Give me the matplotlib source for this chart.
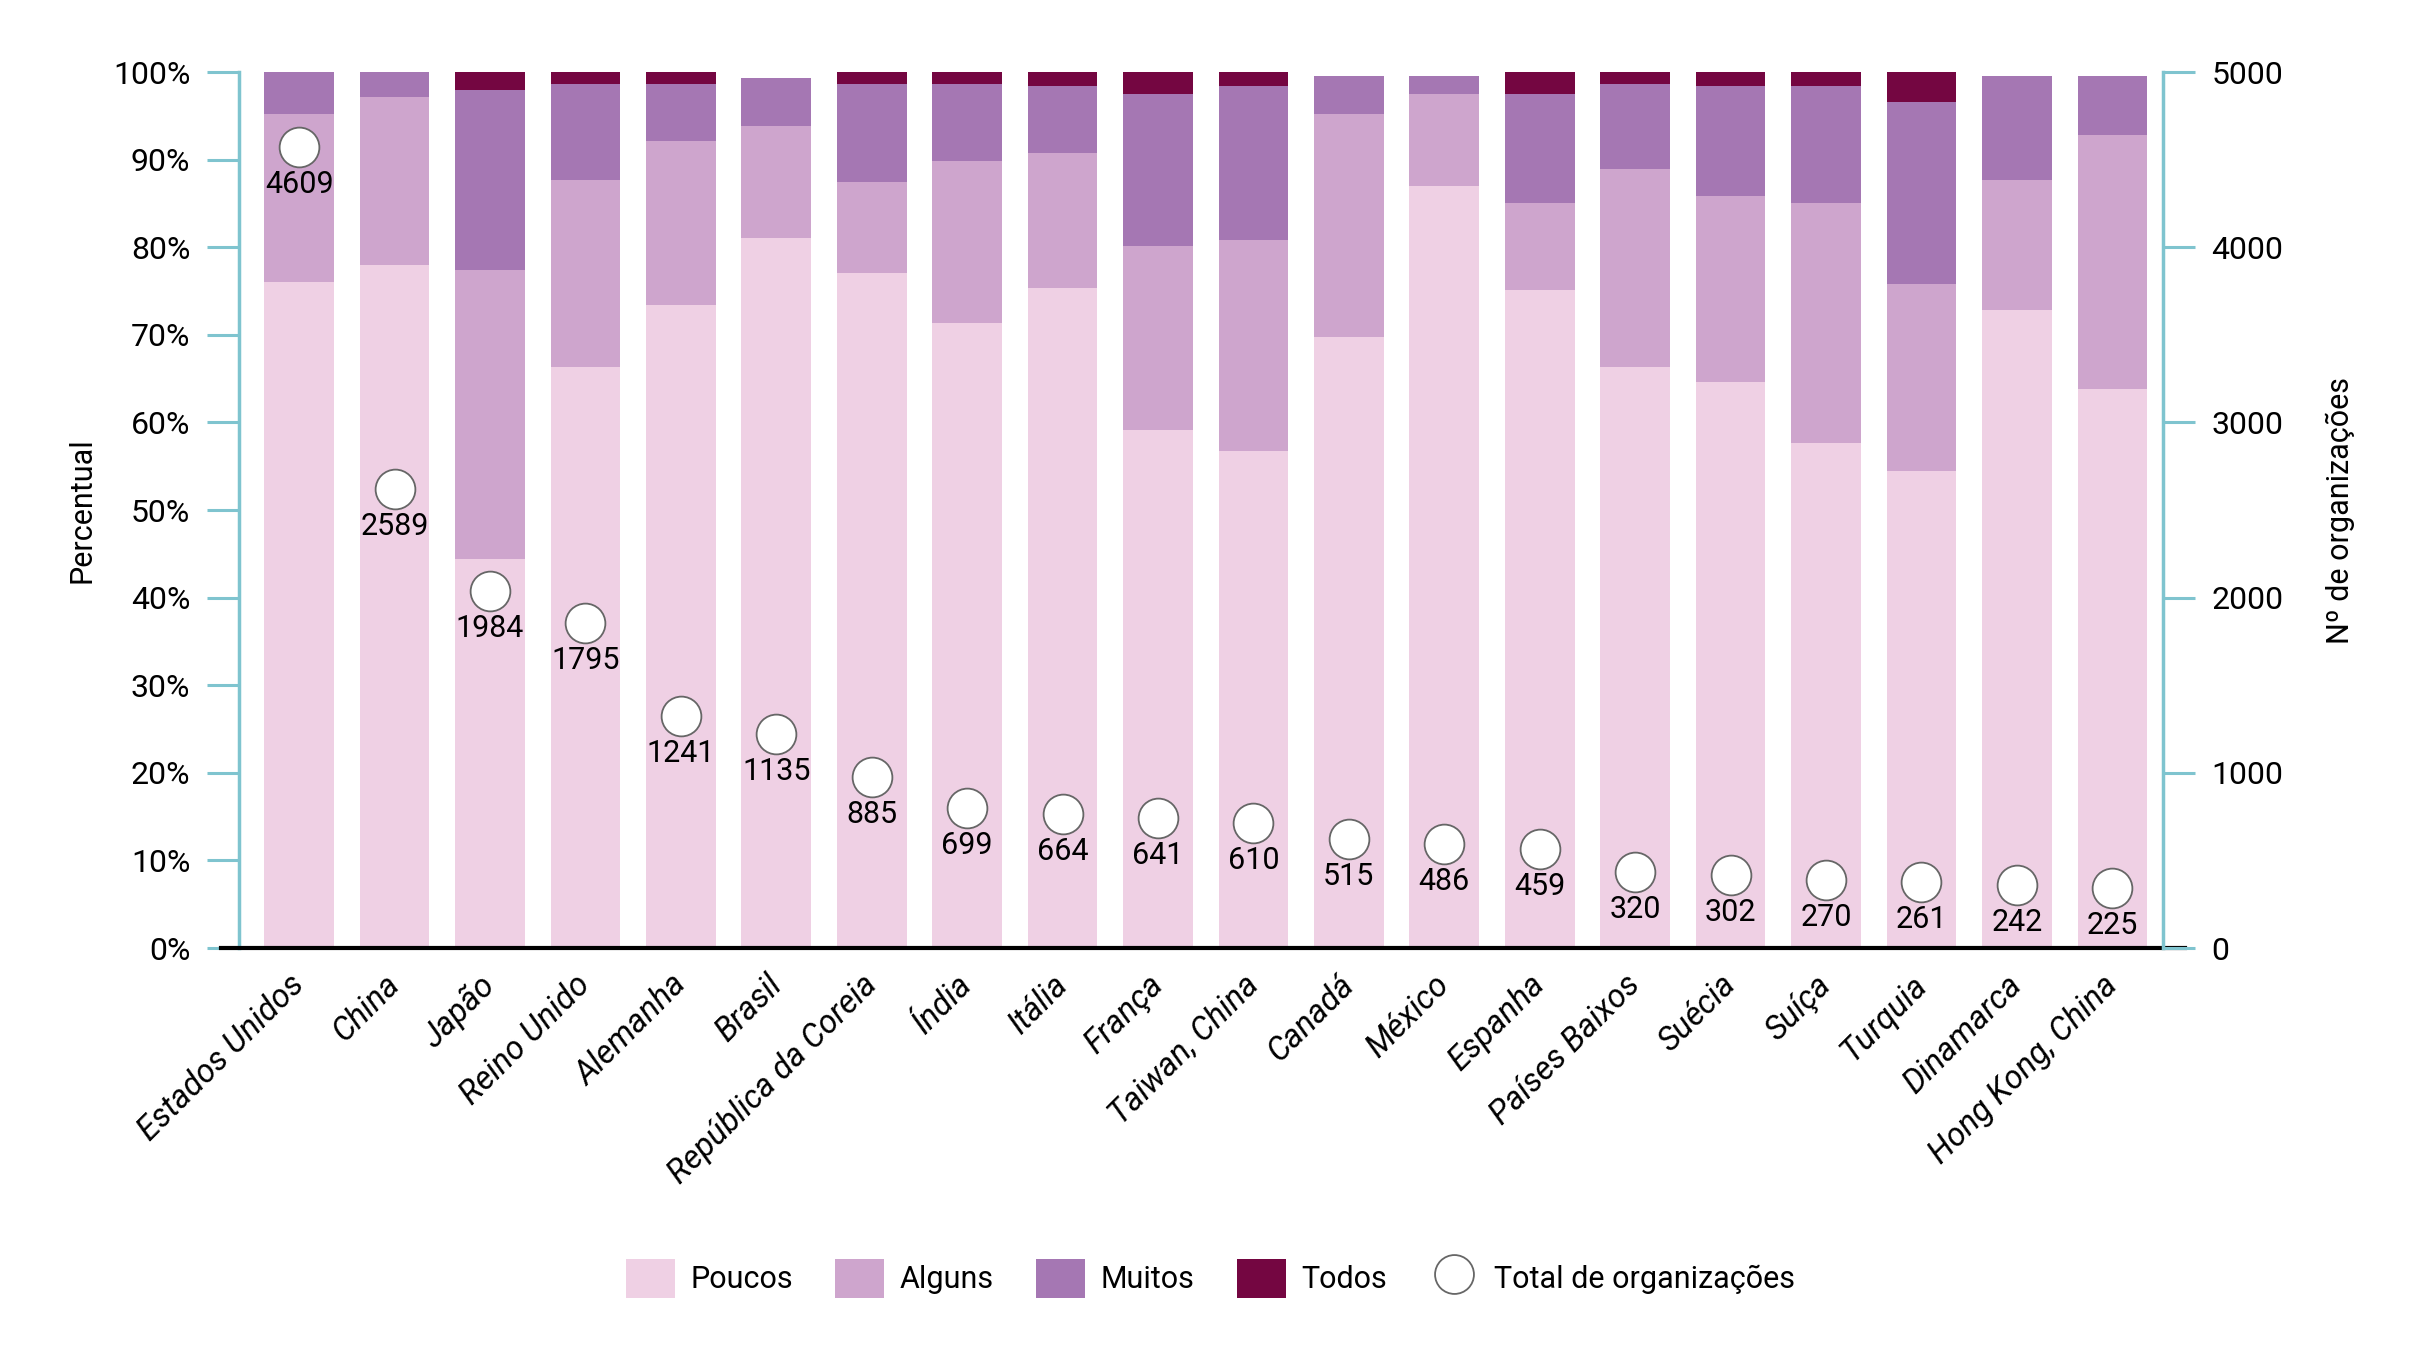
import matplotlib
matplotlib.use("Agg")
import matplotlib.pyplot as plt
import matplotlib.transforms as mtransforms
import numpy as np
from matplotlib.patches import Patch
from matplotlib.lines import Line2D

plt.rcParams['font.family'] = ['Roboto', 'DejaVu Sans']

countries = ["Estados Unidos", "China", "Japão", "Reino Unido", "Alemanha", "Brasil",
             "República da Coreia", "Índia", "Itália", "França", "Taiwan, China", "Canadá",
             "México", "Espanha", "Países Baixos", "Suécia", "Suíça", "Turquia",
             "Dinamarca", "Hong Kong, China"]
poucos = [76.0, 78.0, 44.4, 66.3, 73.4, 81.1, 77.1, 71.4, 75.3, 59.1,
          56.8, 69.8, 87.0, 75.1, 66.3, 64.6, 57.7, 54.5, 72.8, 63.8]
alguns = [19.2, 19.2, 33.0, 21.4, 18.7, 12.7, 10.4, 18.5, 15.5, 21.1,
          24.0, 25.4, 10.5, 9.9, 22.6, 21.3, 27.3, 21.3, 14.9, 29.0]
muitos = [4.8, 2.8, 20.5, 10.9, 6.5, 5.5, 11.1, 8.7, 7.6, 17.3,
          17.6, 4.3, 2.1, 12.5, 9.7, 12.5, 13.4, 20.8, 11.8, 6.8]
todos = [0, 0, 2.1, 1.4, 1.4, 0, 1.4, 1.4, 1.6, 2.5,
         1.6, 0, 0, 2.5, 1.4, 1.6, 1.6, 3.4, 0, 0]
totais = [4609, 2589, 1984, 1795, 1241, 1135, 885, 699, 664, 641,
          610, 515, 486, 459, 320, 302, 270, 261, 242, 225]

cores = ["#efd0e4", "#cea5cd", "#a577b3", "#740641"]
nomes = ["Poucos", "Alguns", "Muitos", "Todos"]
teal = "#7fc4cf"
fs = 22

fig = plt.figure(figsize=(24.21, 13.60), dpi=100)
ax = fig.add_axes([0.0987, 0.3029, 0.7947, 0.6441])
x = np.arange(len(countries))

base = np.zeros(len(countries))
for serie, cor in zip([poucos, alguns, muitos, todos], cores):
    ax.bar(x, serie, bottom=base, width=0.73, color=cor, zorder=2)
    base += np.array(serie)

ax.set_ylim(0, 100)
ax.set_xlim(-0.63, len(countries) - 0.47)
ax.set_yticks(range(0, 101, 10))
ax.set_yticklabels([f"{v}%" for v in range(0, 101, 10)], fontsize=23)
ax.set_xticks(x)
ax.set_xticklabels(countries, rotation=45, ha='right', va='top',
                   rotation_mode='anchor', fontsize=23.5, style='italic')
ax.tick_params(axis='x', length=0, pad=15)
ax.tick_params(axis='y', length=23, width=2.2, color=teal, pad=12)
# nudge the slanted labels so they end right under the bar centre
shift = mtransforms.ScaledTranslation(-0.11, 0, fig.dpi_scale_trans)
for lab in ax.get_xticklabels():
    lab.set_transform(lab.get_transform() + shift)
for s in ['top', 'right', 'bottom']:
    ax.spines[s].set_visible(False)
ax.spines['left'].set_color(teal)
ax.spines['left'].set_linewidth(2.5)
ax.set_ylabel("Percentual", fontsize=fs, labelpad=12)
ax.plot([-0.0094, 1.0114], [0, 0], transform=ax.transAxes, color='black',
        lw=3, clip_on=False, zorder=5)

# right axis with the scale of organizations
ax2 = ax.twinx()
ax2.set_ylim(0, 5000)
ax2.set_yticks(range(0, 5001, 1000))
ax2.tick_params(axis='y', length=23, width=2.2, color=teal, pad=12, labelsize=23)
for s in ['top', 'left', 'bottom']:
    ax2.spines[s].set_visible(False)
ax2.spines['right'].set_color(teal)
ax2.spines['right'].set_linewidth(2.5)
ax2.set_ylabel("Nº de organizações", fontsize=fs, labelpad=30)

# circles sit slightly off the tick scale in the original
ax3 = ax.twinx()
ax3.set_ylim(-130, 5055)
ax3.axis('off')
ax3.scatter(x, totais, s=820, facecolor='white', edgecolor='#666666',
            linewidth=1.3, zorder=4)
for xi, t in zip(x, totais):
    ax3.annotate(str(t), (xi, t), xytext=(0, -27), textcoords='offset points',
                 ha='center', va='center', fontsize=fs, zorder=5)

handles = [Patch(facecolor=c, label=n) for c, n in zip(cores, nomes)]
handles.append(Line2D([], [], marker='o', linestyle='none', markersize=28,
                      markerfacecolor='white', markeredgecolor='#666666',
                      markeredgewidth=1.3, label="Total de organizações"))
fig.legend(handles=handles, loc='center', bbox_to_anchor=(0.5, 0.06), ncol=5,
           frameon=False, fontsize=fs, handlelength=1.6, handleheight=1.6,
           handletextpad=0.5, columnspacing=1.4)

fig.savefig("out.png", dpi=100)
